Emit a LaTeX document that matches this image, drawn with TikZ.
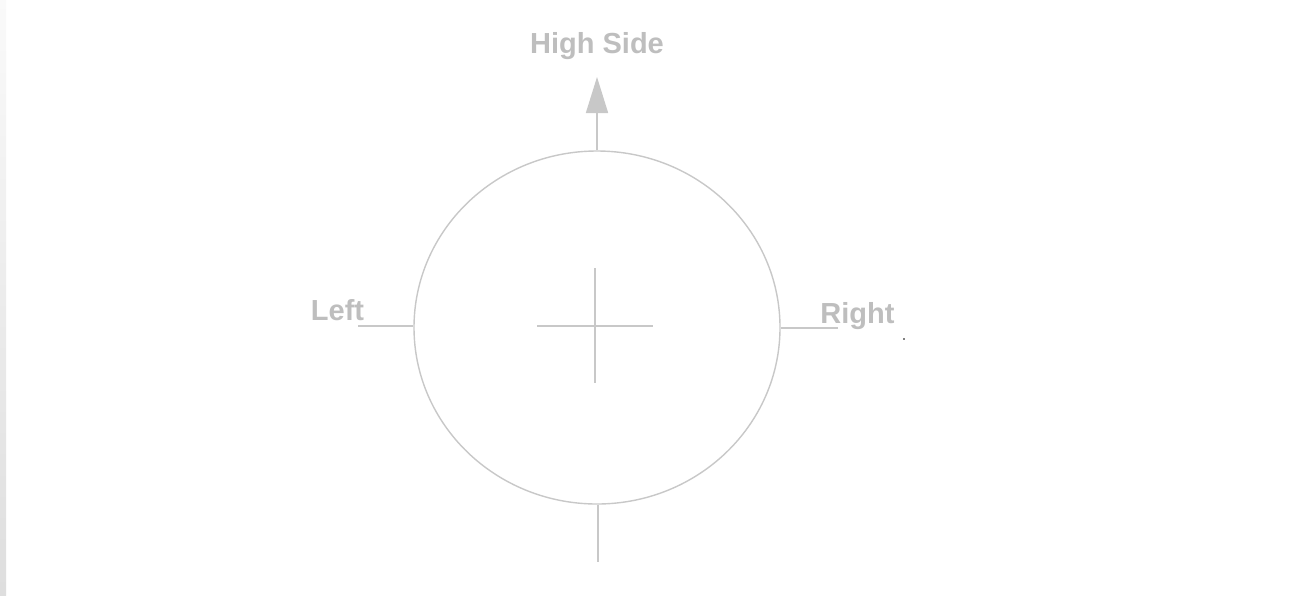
\documentclass[tikz,border=0pt]{standalone}
\usepackage{fontspec}
\setmainfont{Liberation Sans}
\usetikzlibrary{shapes.geometric}
\usetikzlibrary{arrows.meta}
\definecolor{linegray}{RGB}{200,200,200}
\definecolor{textgray}{RGB}{190,190,190}
\tikzset{
  ring/.style={ellipse,draw=linegray,line width=1.4pt,inner sep=0pt,minimum width=366pt,minimum height=353pt},
  tick/.style={draw=linegray,line width=1.6pt},
  side/.style={text=textgray,font=\bfseries\fontsize{29}{34}\selectfont,anchor=base,inner sep=0pt}
}

\begin{document}
\begin{tikzpicture}[x=1pt,y=-1pt]
\useasboundingbox[fill=white] (0,0) rectangle (1297,595);
\shade[top color=white!98!black,bottom color=white!87!black] (0,0) rectangle (6,595);
\draw(597,327.5) node[ring] (circ) {};
% cross at the centre
\coordinate (cw) at (537,326);
\coordinate (ce) at (653,326);
\coordinate (cn) at (595,268);
\coordinate (cs) at (595,383);
\draw[tick] (cw) -- (ce);
\draw[tick] (cn) -- (cs);
% ticks
\coordinate (tip) at (597,77);
\coordinate (lend) at (358,326);
\coordinate (rend) at (838,328);
\coordinate (bend) at (598,562);
\draw[tick,-{Triangle[length=36pt,width=22pt,fill=linegray]}] (circ.north) -- (tip);
\draw[tick] (circ.west |- lend) -- (lend);
\draw[tick] (circ.east |- rend) -- (rend);
\draw[tick] (bend |- circ.south) -- (bend);
% labels
\draw(597,53) node[side] (high) {High Side};
\draw(337.5,320) node[side] (left) {Left};
\draw(857.5,323) node[side] (right) {Right};
\fill (904,339) circle (0.9);
\end{tikzpicture}
\end{document}
